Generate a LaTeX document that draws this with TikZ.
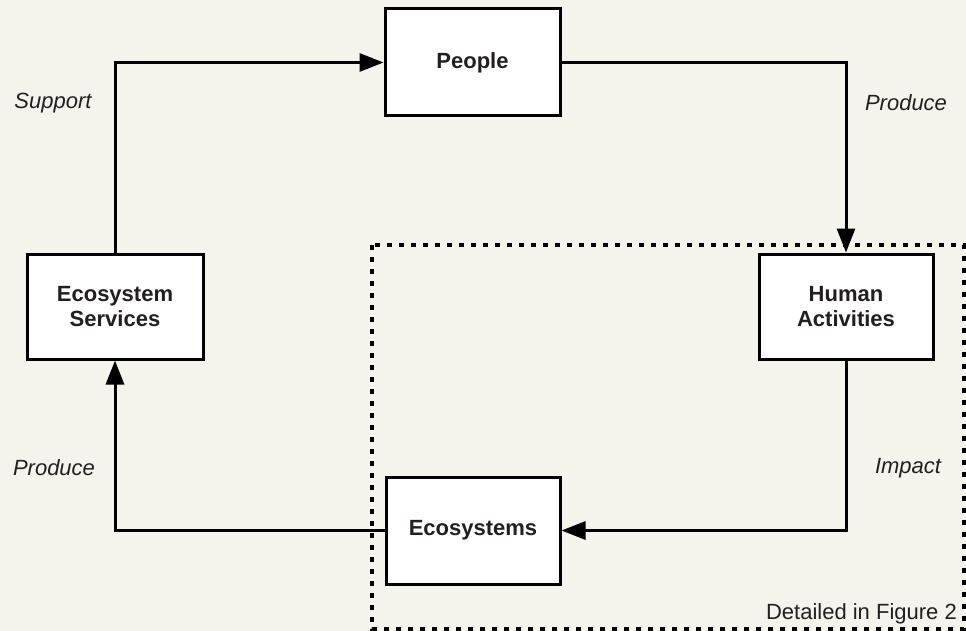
\documentclass[tikz,border=0pt]{standalone}
\usepackage{fontspec}
\setmainfont{Liberation Sans}
\usetikzlibrary{arrows.meta}
\definecolor{bg}{HTML}{F4F3EC}
\definecolor{ink}{HTML}{231F20}
\begin{document}
\begin{tikzpicture}[x=1pt,y=-1pt,
  box/.style={draw=black,fill=white,line width=3pt,minimum width=#1,align=center,
    font=\fontsize{22}{25}\selectfont\bfseries,text=ink,inner sep=0pt},
  box/.default=174pt,
  conn/.style={line width=3pt,-{Triangle[width=18pt,length=24pt]}},
  lbl/.style={font=\fontsize{22}{25}\selectfont\itshape,text=ink},
  dotbox/.style={line width=3.5pt,dash pattern=on 5pt off 7pt}]
\fill[bg] (0,0) rectangle (966,631);
\useasboundingbox (0,0) rectangle (966,631);
% dotted region
\draw[dotbox] (372,245) rectangle (964,629);
% boxes
\node[box=175pt,minimum height=107pt] (people) at (472.5,62.5) {People};
\node[box=174pt,minimum height=105pt] (human) at (846,306.5) {Human\\Activities};
\node[box=174pt,minimum height=107pt] (eco) at (473,530.5) {Ecosystems};
\node[box=176pt,minimum height=105pt] (ess) at (115,306.5) {Ecosystem\\Services};
% connectors
\draw[conn] (ess.north) |- (people.west);
\draw[conn] (people.east) -| (human.north);
\draw[conn] (human.south) |- (eco.east);
\draw[conn] (eco.west) -| (ess.south);
% labels
\node[lbl] (l1) at (53,103) {Support};
\node[lbl] (l2) at (906,103) {Produce};
\node[lbl] (l3) at (908,468) {Impact};
\node[lbl] (l4) at (54,468) {Produce};
\node[font=\fontsize{22}{25}\selectfont,text=ink,anchor=base east,inner sep=0pt] (det) at (957,619) {Detailed in Figure 2};
\end{tikzpicture}
\end{document}
